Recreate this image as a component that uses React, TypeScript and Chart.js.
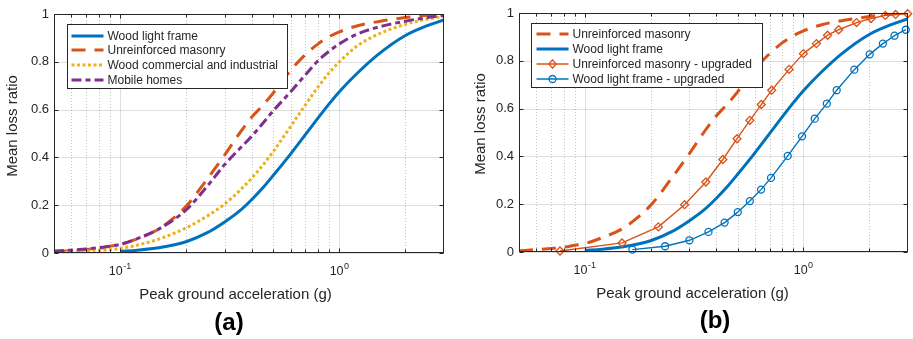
import React, { useEffect, useRef } from 'react';
import { Chart, registerables } from 'chart.js';

Chart.register(...registerables);

// ---------- data ----------
const PGA = [0.05, 0.06, 0.07, 0.08, 0.09, 0.1, 0.12, 0.15, 0.2, 0.25, 0.3, 0.35, 0.4, 0.45, 0.5, 0.6, 0.7, 0.8, 0.9, 1.0, 1.2, 1.5, 2.0, 2.5, 3.0];
const WOOD_LIGHT = [null, null, null, null, null, 0.007, 0.012, 0.022, 0.047, 0.085, 0.13, 0.175, 0.225, 0.275, 0.325, 0.415, 0.495, 0.565, 0.625, 0.675, 0.75, 0.83, 0.91, 0.95, 0.975];
const URM = [0.005, 0.01, 0.015, 0.02, 0.028, 0.035, 0.06, 0.1, 0.195, 0.31, 0.41, 0.5, 0.57, 0.62, 0.67, 0.765, 0.83, 0.875, 0.905, 0.925, 0.95, 0.968, 0.985, 0.995, 1.0];
const WOOD_COMM = [0.002, 0.004, 0.007, 0.01, 0.014, 0.019, 0.033, 0.058, 0.105, 0.155, 0.205, 0.26, 0.315, 0.37, 0.425, 0.53, 0.62, 0.695, 0.755, 0.8, 0.865, 0.915, 0.957, 0.978, 0.99];
const MOBILE = [0.008, 0.012, 0.017, 0.022, 0.029, 0.036, 0.06, 0.1, 0.18, 0.28, 0.37, 0.435, 0.49, 0.545, 0.595, 0.675, 0.745, 0.805, 0.845, 0.875, 0.915, 0.945, 0.97, 0.985, 0.995];

const URM_UPG_X = [0.077, 0.148, 0.217, 0.286, 0.358, 0.428, 0.497, 0.569, 0.642, 0.716, 0.86, 1.0, 1.147, 1.29, 1.45, 1.75, 2.04, 2.37, 2.64, 3.0];
const URM_UPG_Y = [0.004, 0.038, 0.105, 0.198, 0.293, 0.387, 0.474, 0.551, 0.617, 0.677, 0.764, 0.83, 0.872, 0.907, 0.93, 0.96, 0.977, 0.99, 0.994, 0.997];
const WLF_UPG_X = [0.165, 0.233, 0.301, 0.368, 0.436, 0.501, 0.569, 0.64, 0.711, 0.848, 0.986, 1.127, 1.28, 1.42, 1.71, 2.01, 2.31, 2.61, 2.94];
const WLF_UPG_Y = [0.01, 0.024, 0.049, 0.084, 0.123, 0.167, 0.213, 0.261, 0.31, 0.402, 0.484, 0.558, 0.621, 0.677, 0.763, 0.827, 0.872, 0.905, 0.93];

const X_TICKS = [0.05, 0.06, 0.07, 0.08, 0.09, 0.1, 0.2, 0.3, 0.4, 0.5, 0.6, 0.7, 0.8, 0.9, 1, 2, 3];
const X_MAJOR = [0.1, 1];
const X_MAJOR_EXP = ['-1', '0'];
const Y_TICKS = [0, 0.2, 0.4, 0.6, 0.8, 1];

const X_TITLE = 'Peak ground acceleration (g)';
const Y_TITLE = 'Mean loss ratio';

// ---------- style ----------
const FONT = '"Liberation Sans", Arial, Helvetica, sans-serif';
const BLUE = '#0072BD';
const RED = '#D95319';
const YELLOW = '#EDB120';
const PURPLE = '#7E2F8E';
const AXIS = '#262626';
const H = 339;

type Series = {
  label: string;
  xs: number[];
  ys: (number | null)[];
  color: string;
  width: number;
  dash: number[];
  marker?: 'rectRot' | 'circle';
};

type Spec = {
  canvasLeft: number;
  canvasWidth: number;
  area: { left: number; top: number; right: number; bottom: number };
  series: Series[];
  legend: { dx: number; dy: number; w: number; h: number; row0: number; step: number; s0: number; s1: number; tx: number };
  yTitle: { x: number; y: number };
  xTitle: { x: number; y: number };
  tag: { text: string; x: number; y: number };
};

const pts = (xs: number[], ys: (number | null)[]) =>
  xs.map((x, i) => ({ x, y: ys[i] })).filter((p) => p.y !== null && p.y !== undefined);

const S_WLF: Series = { label: 'Wood light frame', xs: PGA, ys: WOOD_LIGHT, color: BLUE, width: 3, dash: [] };
const S_URM: Series = { label: 'Unreinforced masonry', xs: PGA, ys: URM, color: RED, width: 3, dash: [14, 9] };
const S_WCI: Series = { label: 'Wood commercial and industrial', xs: PGA, ys: WOOD_COMM, color: YELLOW, width: 3, dash: [3, 2.5] };
const S_MOB: Series = { label: 'Mobile homes', xs: PGA, ys: MOBILE, color: PURPLE, width: 3, dash: [10, 4, 5, 4] };
const S_URM_U: Series = { label: 'Unreinforced masonry - upgraded', xs: URM_UPG_X, ys: URM_UPG_Y, color: RED, width: 1.4, dash: [], marker: 'rectRot' };
const S_WLF_U: Series = { label: 'Wood light frame - upgraded', xs: WLF_UPG_X, ys: WLF_UPG_Y, color: BLUE, width: 1.4, dash: [], marker: 'circle' };

const SPEC_A: Spec = {
  canvasLeft: 0,
  canvasWidth: 457,
  area: { left: 54, top: 14, right: 444, bottom: 253 },
  series: [S_WLF, S_URM, S_WCI, S_MOB],
  legend: { dx: 12.5, dy: 10, w: 220, h: 64, row0: 11, step: 14.7, s0: 4, s1: 36, tx: 40 },
  yTitle: { x: 13, y: 126 },
  xTitle: { x: 235.5, y: 299 },
  tag: { text: '(a)', x: 229, y: 330 },
};

const SPEC_B: Spec = {
  canvasLeft: 457,
  canvasWidth: 456,
  area: { left: 62, top: 13, right: 451, bottom: 252 },
  series: [S_URM, S_WLF, S_URM_U, S_WLF_U],
  legend: { dx: 12, dy: 10, w: 231, h: 64, row0: 10.5, step: 15, s0: 5, s1: 37, tx: 41 },
  yTitle: { x: 24.3, y: 124 },
  xTitle: { x: 235.5, y: 297.7 },
  tag: { text: '(b)', x: 258, y: 328 },
};

function drawMarker(ctx: CanvasRenderingContext2D, kind: string, x: number, y: number, r: number) {
  ctx.beginPath();
  if (kind === 'circle') {
    ctx.arc(x, y, r, 0, Math.PI * 2);
  } else {
    ctx.moveTo(x, y - r);
    ctx.lineTo(x + r * 0.85, y);
    ctx.lineTo(x, y + r);
    ctx.lineTo(x - r * 0.85, y);
    ctx.closePath();
  }
  ctx.stroke();
}

function makeDecor(spec: Spec) {
  return {
    id: 'decor',
    beforeDatasetsDraw(chart: any) {
      const { ctx, chartArea: a } = chart;
      const xs = chart.scales.x;
      const ys = chart.scales.y;
      ctx.save();
      ctx.lineWidth = 1;
      // minor x grid (dotted)
      ctx.strokeStyle = 'rgba(38,38,38,0.28)';
      ctx.setLineDash([1, 2]);
      X_TICKS.forEach((v) => {
        if (X_MAJOR.includes(v)) return;
        const px = Math.round(xs.getPixelForValue(v)) + 0.5;
        if (px <= a.left + 1 || px >= a.right - 1) return;
        ctx.beginPath();
        ctx.moveTo(px, a.top);
        ctx.lineTo(px, a.bottom);
        ctx.stroke();
      });
      ctx.setLineDash([]);
      ctx.strokeStyle = 'rgba(38,38,38,0.15)';
      X_MAJOR.forEach((v) => {
        const px = Math.round(xs.getPixelForValue(v)) + 0.5;
        ctx.beginPath();
        ctx.moveTo(px, a.top);
        ctx.lineTo(px, a.bottom);
        ctx.stroke();
      });
      Y_TICKS.forEach((v) => {
        const py = Math.round(ys.getPixelForValue(v)) + 0.5;
        ctx.beginPath();
        ctx.moveTo(a.left, py);
        ctx.lineTo(a.right, py);
        ctx.stroke();
      });
      ctx.restore();
    },
    afterDraw(chart: any) {
      const { ctx, chartArea: a } = chart;
      const xs = chart.scales.x;
      const ys = chart.scales.y;
      ctx.save();
      // axes box
      ctx.strokeStyle = AXIS;
      ctx.lineWidth = 1;
      ctx.setLineDash([]);
      const L = Math.round(a.left) + 0.5;
      const R = Math.round(a.right) - 0.5;
      const T = Math.round(a.top) + 0.5;
      const B = Math.round(a.bottom) - 0.5;
      ctx.strokeRect(L, T, R - L, B - T);
      // inward ticks
      ctx.beginPath();
      Y_TICKS.forEach((v) => {
        const py = Math.round(ys.getPixelForValue(v)) + 0.5;
        ctx.moveTo(L, py);
        ctx.lineTo(L + 4, py);
        ctx.moveTo(R, py);
        ctx.lineTo(R - 4, py);
      });
      X_TICKS.forEach((v) => {
        const px = Math.round(xs.getPixelForValue(v)) + 0.5;
        if (px <= L + 1 || px >= R - 1) return;
        const len = X_MAJOR.includes(v) ? 4 : 3;
        ctx.moveTo(px, B);
        ctx.lineTo(px, B - len);
        ctx.moveTo(px, T);
        ctx.lineTo(px, T + len);
      });
      ctx.stroke();

      // x tick labels with superscript exponents
      ctx.fillStyle = AXIS;
      ctx.textBaseline = 'alphabetic';
      ctx.textAlign = 'left';
      X_MAJOR.forEach((v, i) => {
        const px = xs.getPixelForValue(v);
        ctx.font = `12.5px ${FONT}`;
        const wb = ctx.measureText('10').width;
        ctx.font = `9px ${FONT}`;
        const we = ctx.measureText(X_MAJOR_EXP[i]).width;
        const x0 = px - (wb + we + 0.5) / 2;
        ctx.font = `12.5px ${FONT}`;
        ctx.fillText('10', x0, a.bottom + 22);
        ctx.font = `9px ${FONT}`;
        ctx.fillText(X_MAJOR_EXP[i], x0 + wb + 0.5, a.bottom + 15.5);
      });

      // legend
      const lg = spec.legend;
      const bx = Math.round(a.left + lg.dx) + 0.5;
      const by = Math.round(a.top + lg.dy) + 0.5;
      ctx.fillStyle = '#ffffff';
      ctx.fillRect(bx, by, lg.w, lg.h);
      ctx.strokeStyle = AXIS;
      ctx.lineWidth = 1;
      ctx.strokeRect(bx, by, lg.w, lg.h);
      ctx.font = `12px ${FONT}`;
      ctx.textBaseline = 'middle';
      ctx.textAlign = 'left';
      spec.series.forEach((s, i) => {
        const y = Math.round(by + lg.row0 + i * lg.step);
        ctx.strokeStyle = s.color;
        ctx.lineWidth = s.width;
        ctx.setLineDash(s.dash);
        ctx.lineCap = 'butt';
        ctx.beginPath();
        ctx.moveTo(bx + lg.s0, y);
        ctx.lineTo(bx + lg.s1, y);
        ctx.stroke();
        ctx.setLineDash([]);
        if (s.marker) {
          ctx.lineWidth = 1.3;
          drawMarker(ctx, s.marker, bx + (lg.s0 + lg.s1) / 2, y, s.marker === 'circle' ? 3.5 : 4.2);
        }
        ctx.fillStyle = AXIS;
        ctx.fillText(s.label, bx + lg.tx, y + 0.5);
      });

      // axis titles and panel tag
      ctx.fillStyle = AXIS;
      ctx.font = `15px ${FONT}`;
      ctx.textAlign = 'center';
      ctx.textBaseline = 'alphabetic';
      ctx.fillText(X_TITLE, spec.xTitle.x, spec.xTitle.y);
      ctx.save();
      ctx.translate(spec.yTitle.x, spec.yTitle.y);
      ctx.rotate(-Math.PI / 2);
      ctx.textBaseline = 'middle';
      ctx.fillText(Y_TITLE, 0, 0);
      ctx.restore();
      ctx.fillStyle = '#000000';
      ctx.font = `bold 24px ${FONT}`;
      ctx.textBaseline = 'alphabetic';
      ctx.fillText(spec.tag.text, spec.tag.x, spec.tag.y);
      ctx.restore();
    },
  };
}

function Panel({ spec }: { spec: Spec }) {
  const ref = useRef<HTMLCanvasElement>(null);
  useEffect(() => {
    const n = spec.series.length;
    const chart = new Chart(ref.current as HTMLCanvasElement, {
      type: 'line',
      data: {
        datasets: spec.series.map((s, i) => ({
          label: s.label,
          data: pts(s.xs, s.ys) as any,
          borderColor: s.color,
          backgroundColor: s.color,
          borderWidth: s.width,
          borderDash: s.dash,
          borderCapStyle: 'butt',
          borderJoinStyle: 'round',
          fill: false,
          cubicInterpolationMode: s.marker ? 'default' : 'monotone',
          tension: 0,
          pointRadius: s.marker ? (s.marker === 'circle' ? 3.5 : 4) : 0,
          pointStyle: s.marker || 'circle',
          pointBorderColor: s.color,
          pointBackgroundColor: 'rgba(0,0,0,0)',
          pointBorderWidth: 1.3,
          pointHoverRadius: 0,
          clip: s.marker ? (false as any) : undefined,
          order: n - i,
        })),
      },
      options: {
        responsive: false,
        animation: false,
        devicePixelRatio: 1,
        events: [],
        layout: {
          padding: { left: 0, top: spec.area.top, right: spec.canvasWidth - spec.area.right, bottom: 0 },
        },
        plugins: {
          legend: { display: false },
          tooltip: { enabled: false },
          title: { display: false },
        },
        scales: {
          x: {
            type: 'logarithmic',
            min: 0.05,
            max: 3,
            grid: { display: false, drawTicks: false },
            border: { display: false },
            afterBuildTicks: (s: any) => {
              s.ticks = X_TICKS.map((v) => ({ value: v, major: X_MAJOR.includes(v) }));
            },
            afterFit: (s: any) => {
              s.height = H - spec.area.bottom;
            },
            ticks: { display: false, autoSkip: false, maxRotation: 0, minRotation: 0 },
          },
          y: {
            type: 'linear',
            min: 0,
            max: 1,
            grid: { display: false, drawTicks: false },
            border: { display: false },
            afterBuildTicks: (s: any) => {
              s.ticks = Y_TICKS.map((v) => ({ value: v }));
            },
            afterFit: (s: any) => {
              s.width = spec.area.left;
            },
            ticks: {
              padding: 5,
              color: AXIS,
              font: { family: FONT, size: 13 },
              callback: (v: any) => String(v),
            },
          },
        },
      } as any,
      plugins: [makeDecor(spec)],
    });
    return () => chart.destroy();
  }, [spec]);
  return (
    <canvas
      ref={ref}
      width={spec.canvasWidth}
      height={H}
      style={{ position: 'absolute', left: spec.canvasLeft, top: 0, width: spec.canvasWidth, height: H }}
    />
  );
}

export default function App() {
  return (
    <div style={{ position: 'absolute', left: 0, top: 0, width: 913, height: H, background: '#ffffff', overflow: 'hidden' }}>
      <Panel spec={SPEC_A} />
      <Panel spec={SPEC_B} />
    </div>
  );
}
